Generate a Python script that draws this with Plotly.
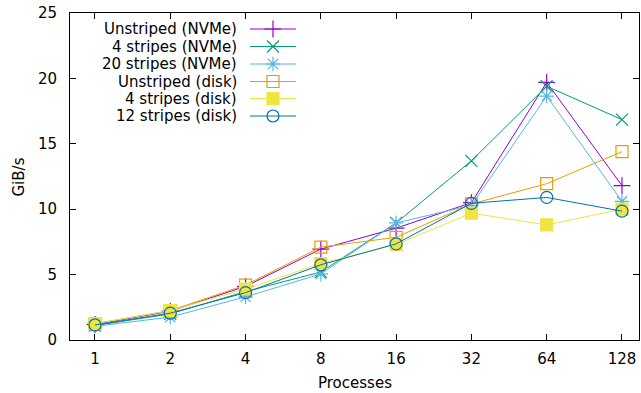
import plotly.graph_objects as go
import math

processes = [1, 2, 4, 8, 16, 32, 64, 128]
tick_labels = ["1", "2", "4", "8", "16", "32", "64", "128"]

series_names = ["Unstriped (NVMe)", "4 stripes (NVMe)", "20 stripes (NVMe)",
                "Unstriped (disk)", "4 stripes (disk)", "12 stripes (disk)"]
unstriped_nvme = [1.2, 2.2, 4.1, 6.95, 8.55, 10.5, 19.7, 11.8]
stripes4_nvme = [1.1, 2.0, 3.7, 5.2, 8.95, 13.7, 19.4, 16.85]
stripes20_nvme = [1.05, 1.75, 3.3, 5.05, 8.95, 10.3, 18.65, 10.6]
unstriped_disk = [1.25, 2.25, 4.2, 7.1, 7.85, 10.4, 11.95, 14.4]
stripes4_disk = [1.25, 2.25, 3.9, 5.85, 7.3, 9.7, 8.8, 10.0]
stripes12_disk = [1.15, 2.05, 3.62, 5.75, 7.35, 10.45, 10.9, 9.85]
all_values = [unstriped_nvme, stripes4_nvme, stripes20_nvme,
              unstriped_disk, stripes4_disk, stripes12_disk]

colors = ["#9400d3", "#009e73", "#56b4e9", "#e69f00", "#f0e442", "#0072b2"]
symbols = ["cross-thin-open", "x-thin-open", "asterisk-open",
           "square-open", "square", "circle-open"]
sizes = [12, 12, 12, 12, 12, 12]

W, H = 641, 393
L, R, T, B = 70, 2, 13, 53
pw = W - L - R
ph = H - T - B
FS = 15

fig = go.Figure()
for name, vals, c, s, sz in zip(series_names, all_values, colors, symbols, sizes):
    fig.add_trace(go.Scatter(
        x=processes, y=vals, mode="lines+markers", name=name,
        line=dict(color=c, width=1),
        marker=dict(symbol=s, size=sz, color=c, line=dict(color=c, width=1.2)),
        showlegend=False))

# manual gnuplot-style legend (text right, sample on the right)
row_px = [29, 46.5, 64, 81.5, 98.5, 116]
text_right_px = 239
line_x0_px, line_x1_px, mark_px = 250, 296, 273
def px_x(p):
    return (p - L) / pw
def px_y(p):
    return (H - B - p) / ph

annotations = []
shapes = []
for i, name in enumerate(series_names):
    yy = px_y(row_px[i])
    annotations.append(dict(x=px_x(text_right_px), y=yy, xref="paper", yref="paper",
                            text=name, showarrow=False, xanchor="right", yanchor="middle",
                            font=dict(size=FS, color="#000000")))
    shapes.append(dict(type="line", xref="paper", yref="paper",
                       x0=px_x(line_x0_px), x1=px_x(line_x1_px), y0=yy, y1=yy,
                       line=dict(color=colors[i], width=1)))
for i in range(len(series_names)):
    fig.add_trace(go.Scatter(
        x=[px_x(mark_px)], y=[px_y(row_px[i])], xaxis="x2", yaxis="y2",
        mode="markers", showlegend=False, hoverinfo="skip",
        marker=dict(symbol=symbols[i], size=sizes[i], color=colors[i],
                    line=dict(color=colors[i], width=1.2))))

annotations.append(dict(x=px_x(18), y=0.5, xref="paper", yref="paper", text="GiB/s",
                        textangle=-90, showarrow=False, xanchor="center", yanchor="middle",
                        font=dict(size=FS, color="#000000")))
annotations.append(dict(x=0.5, y=px_y(383), xref="paper", yref="paper", text="Processes",
                        showarrow=False, xanchor="center", yanchor="middle",
                        font=dict(size=FS, color="#000000")))

fig.update_layout(
    width=W, height=H,
    margin=dict(l=L, r=R, t=T, b=B, pad=0),
    paper_bgcolor="white", plot_bgcolor="white",
    font=dict(family="DejaVu Sans", size=FS, color="#000000"),
    xaxis=dict(type="log", range=[math.log10(2 ** -0.332), math.log10(2 ** 7.226)],
               tickvals=processes, ticktext=tick_labels,
               ticks="inside", ticklen=6, tickwidth=1, tickcolor="#000000",
               showline=True, linecolor="#000000", linewidth=1, mirror="allticks",
               showgrid=False, zeroline=False, ticklabelstandoff=5),
    yaxis=dict(range=[0, 25], tickvals=[0, 5, 10, 15, 20, 25],
               ticks="inside", ticklen=6, tickwidth=1, tickcolor="#000000",
               showline=True, linecolor="#000000", linewidth=1, mirror="allticks",
               showgrid=False, zeroline=False, ticklabelstandoff=9),
    xaxis2=dict(overlaying="x", range=[0, 1], visible=False, domain=[0, 1]),
    yaxis2=dict(overlaying="y", range=[0, 1], visible=False),
    annotations=annotations, shapes=shapes,
)
fig.write_html("out.html")
